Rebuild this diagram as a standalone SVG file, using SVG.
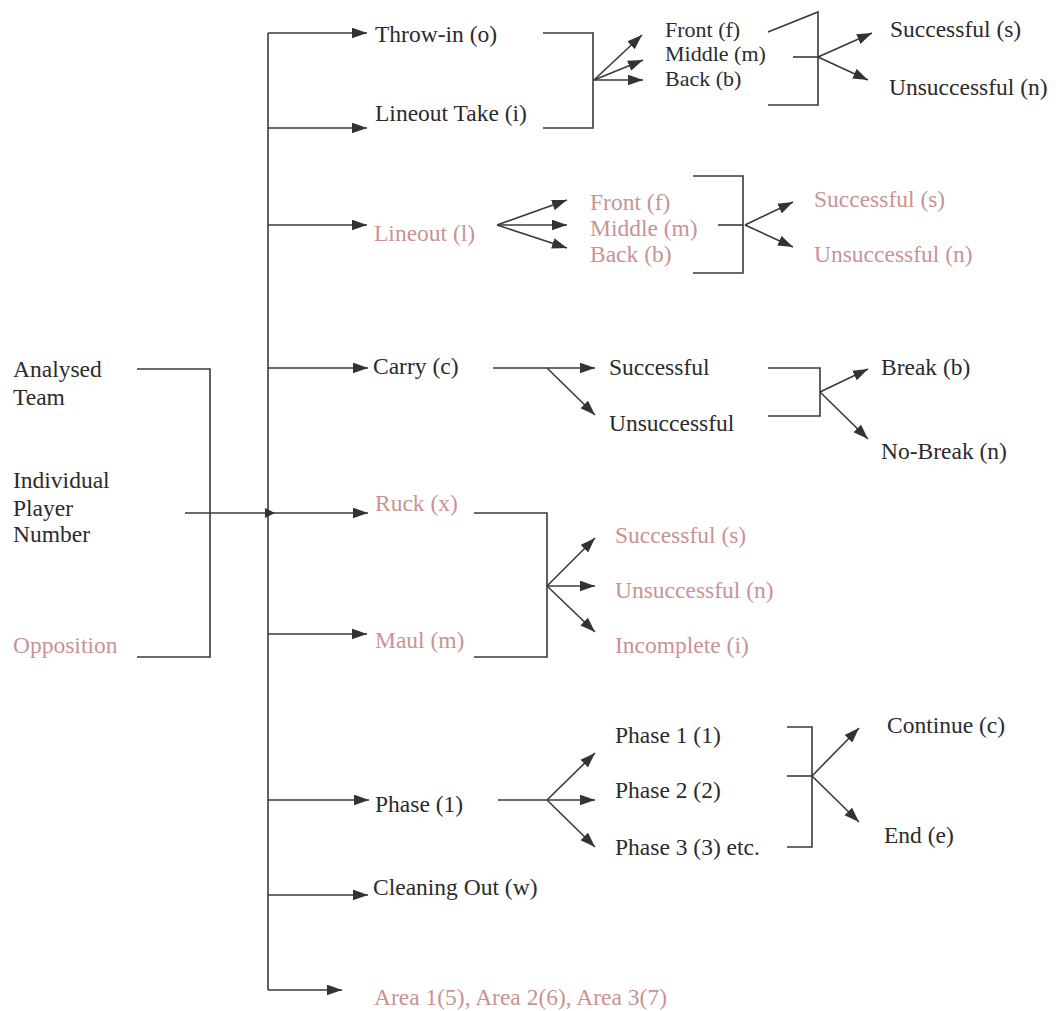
<svg xmlns="http://www.w3.org/2000/svg" width="1058" height="1011" viewBox="0 0 1058 1011">
<style>
  text { font-size: 23.5px; fill: #2b2b2b; }
  text.p { fill: #c99393; }
  text.s { font-size: 22px; }
  .c path { fill: none; stroke: #3a3a3a; stroke-width: 1.6; }
  .c path.a { marker-end: url(#ah); }
</style>
<defs>
  <marker id="ah" viewBox="0 0 14 10" refX="14" refY="5" markerWidth="15" markerHeight="11" markerUnits="userSpaceOnUse" orient="auto">
    <path d="M0,0 L14,5 L0,10 z" fill="#333"/>
  </marker>
</defs>
<rect width="1058" height="1011" fill="#fff"/>
<g id="connectors" class="c">
  <path d="M268,33 V990"/>
  <path class="a" d="M268,33 H367"/>
  <path class="a" d="M268,128 H367"/>
  <path class="a" d="M268,225 H367"/>
  <path class="a" d="M268,368 H368"/>
  <path class="a" d="M185,513 H368"/>
  <path class="a" d="M268,634 H367"/>
  <path class="a" d="M268,800 H369"/>
  <path class="a" d="M268,895 H368"/>
  <path class="a" d="M268,990 H342"/>
  <path d="M137,369 H210 V657 H137"/>
  <polygon points="265,508 275,513 265,518" fill="#333"/>
  <path d="M543,33 H593 V128 H543"/>
  <path class="a" d="M594,80 L642,35"/>
  <path class="a" d="M594,80 L643,60"/>
  <path class="a" d="M594,80 H643"/>
  <path d="M768,32 L818,12 V105 H768"/>
  <path d="M793,57 H818"/>
  <path class="a" d="M818,57 L872,33"/>
  <path class="a" d="M818,57 L868,80"/>
  <path class="a" d="M497,225 L567,200"/>
  <path class="a" d="M497,225 H567"/>
  <path class="a" d="M497,225 L567,248"/>
  <path d="M693,176 H743 V273 H693"/>
  <path d="M718,225 H743"/>
  <path class="a" d="M745,225 L793,202"/>
  <path class="a" d="M745,225 L793,247"/>
  <path class="a" d="M493,368 H595"/>
  <path class="a" d="M547,368 L595,415"/>
  <path d="M768,368 H820 V416 H768"/>
  <path class="a" d="M820,392 L868,369"/>
  <path class="a" d="M820,392 L868,439"/>
  <path d="M474,513 H547 V657 H474"/>
  <path class="a" d="M547,586 L595,538"/>
  <path class="a" d="M547,586 H595"/>
  <path class="a" d="M547,586 L595,632"/>
  <path class="a" d="M498,800 H595"/>
  <path class="a" d="M547,800 L595,753"/>
  <path class="a" d="M547,800 L595,847"/>
  <path d="M787,727 H812 V847 H787"/>
  <path d="M787,776 H812"/>
  <path class="a" d="M812,776 L859,728"/>
  <path class="a" d="M812,776 L859,822"/>
</g>
<g font-family="Liberation Serif, serif">
<g id="analysed-team"><text x="13" y="377">Analysed</text><text x="13" y="405">Team</text></g>
<g id="individual-player"><text x="13" y="488">Individual</text><text x="13" y="516">Player</text><text x="13" y="542">Number</text></g>
<g id="opposition"><text class="p" x="13" y="653">Opposition</text></g>
<g id="throw-in"><text x="375" y="42">Throw-in (o)</text></g>
<g id="lineout-take"><text x="375" y="121">Lineout Take (i)</text></g>
<g id="throw-front"><text class="s" x="665" y="37">Front (f)</text></g>
<g id="throw-middle"><text class="s" x="665" y="61">Middle (m)</text></g>
<g id="throw-back"><text class="s" x="665" y="86">Back (b)</text></g>
<g id="throw-successful"><text x="890" y="37">Successful (s)</text></g>
<g id="throw-unsuccessful"><text x="889" y="95">Unsuccessful (n)</text></g>
<g id="lineout"><text class="p" x="374" y="241">Lineout (l)</text></g>
<g id="lineout-front"><text class="p" x="590" y="210">Front (f)</text></g>
<g id="lineout-middle"><text class="p" x="590" y="236">Middle (m)</text></g>
<g id="lineout-back"><text class="p" x="590" y="262">Back (b)</text></g>
<g id="lineout-successful"><text class="p" x="814" y="207">Successful (s)</text></g>
<g id="lineout-unsuccessful"><text class="p" x="814" y="262">Unsuccessful (n)</text></g>
<g id="carry"><text x="373" y="374">Carry (c)</text></g>
<g id="carry-successful"><text x="609" y="375">Successful</text></g>
<g id="carry-unsuccessful"><text x="609" y="431">Unsuccessful</text></g>
<g id="break"><text x="881" y="375">Break (b)</text></g>
<g id="no-break"><text x="881" y="459">No-Break (n)</text></g>
<g id="ruck"><text class="p" x="375" y="511">Ruck (x)</text></g>
<g id="maul"><text class="p" x="375" y="648">Maul (m)</text></g>
<g id="ruck-successful"><text class="p" x="615" y="543">Successful (s)</text></g>
<g id="ruck-unsuccessful"><text class="p" x="615" y="598">Unsuccessful (n)</text></g>
<g id="ruck-incomplete"><text class="p" x="615" y="653">Incomplete (i)</text></g>
<g id="phase"><text x="375" y="812">Phase (1)</text></g>
<g id="phase-1"><text x="615" y="743">Phase 1 (1)</text></g>
<g id="phase-2"><text x="615" y="798">Phase 2 (2)</text></g>
<g id="phase-3"><text x="615" y="855">Phase 3 (3) etc.</text></g>
<g id="continue"><text x="887" y="733">Continue (c)</text></g>
<g id="end"><text x="884" y="843">End (e)</text></g>
<g id="cleaning-out"><text x="373" y="895">Cleaning Out (w)</text></g>
<g id="area"><text class="p" x="374" y="1005">Area 1(5), Area 2(6), Area 3(7)</text></g>
</g>
</svg>
